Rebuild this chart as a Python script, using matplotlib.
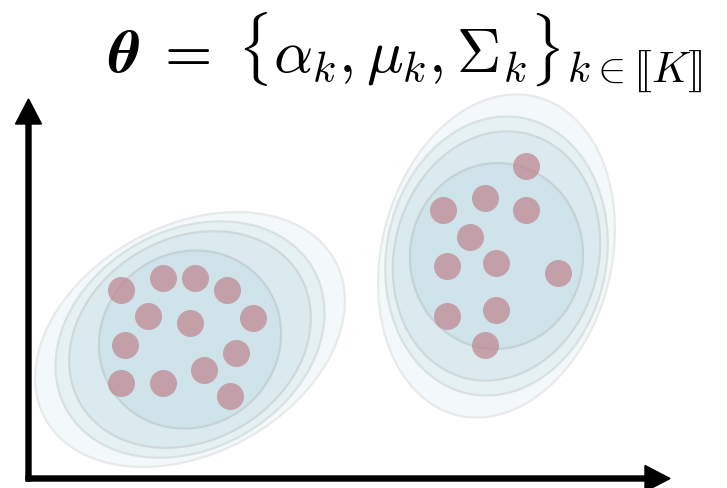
import matplotlib
matplotlib.use("Agg")
import matplotlib.pyplot as plt
from matplotlib.patches import Ellipse

plt.rcParams["mathtext.fontset"] = "cm"

# Sample points of the two clusters (canvas units, y pointing up)
left_x = [121, 163, 195, 227, 148, 190, 253, 125, 236, 121, 163, 204, 230]
left_y = [198, 210, 210, 198, 172, 165, 170, 143, 135, 105, 105, 118, 92]
right_x = [526, 485, 443, 526, 470, 447, 496, 558, 447, 496, 485]
right_y = [322, 290, 278, 278, 251, 222, 225, 215, 172, 178, 143]

# Gaussian components: centre, and contour ellipses (width, height, angle), outer to inner
left_center = (190, 148.5)
left_widths = [330, 284, 254, 186]
left_heights = [228, 218, 202, 174]
left_angles = [28.5, 30, 30.5, 35]

right_center = (496.5, 232)
right_widths = [230, 220, 204, 173]
right_heights = [328, 281, 252, 186]
right_angles = [-14, -11, -14.5, -5]

fill_colors = ["#f3f9fa", "#e6f1f4", "#dbeaee", "#cfe4ea"]
edge_colors = ["#e8eaea", "#d9e1e3", "#cfd9db", "#c6d3d6"]

W, H = 727, 489
fig = plt.figure(figsize=(W / 100, H / 100), dpi=100)
ax = fig.add_axes([0, 0, 1, 1])
ax.set_xlim(0, W)
ax.set_ylim(0, H)
ax.set_aspect("equal")
ax.axis("off")


def draw_component(center, widths, heights, angles):
    for w, h, a, fc, ec in zip(widths, heights, angles, fill_colors, edge_colors):
        ax.add_patch(Ellipse(center, w, h, angle=a, facecolor=fc,
                             edgecolor=ec, linewidth=1.6, zorder=1))


draw_component(left_center, left_widths, left_heights, left_angles)
draw_component(right_center, right_widths, right_heights, right_angles)

point_size = (13.5 * 2 * 0.72) ** 2
ax.scatter(left_x, left_y, s=point_size, color=(0.75, 0.52, 0.56),
           alpha=0.72, linewidths=0, zorder=3)
ax.scatter(right_x, right_y, s=point_size, color=(0.75, 0.52, 0.56),
           alpha=0.72, linewidths=0, zorder=3)

# Axes arrows
ax.arrow(28.5, 7, 0, 382, width=5, head_width=26, head_length=25,
         length_includes_head=True, color="black", zorder=4)
ax.arrow(26, 9.5, 644, 0, width=5, head_width=26, head_length=25,
         length_includes_head=True, color="black", zorder=4)

ax.text(108, 437,
        r"$\boldsymbol{\theta}\;=\;\{\alpha_k, \mu_k, \mathbf{\Sigma}_k\}_{k\in[\![K]\!]}$",
        fontsize=44, ha="left", va="center", color="black")

fig.savefig("out.png", dpi=100)
